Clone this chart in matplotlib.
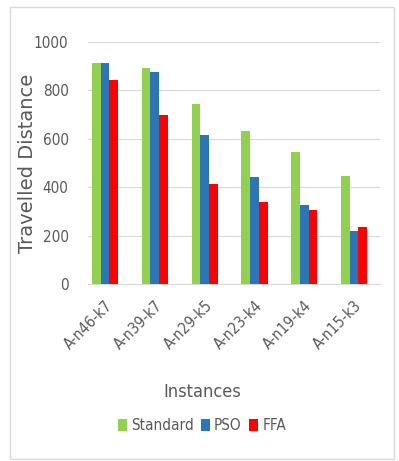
import matplotlib
matplotlib.use("Agg")
import matplotlib.pyplot as plt
import numpy as np
from matplotlib.patches import Rectangle

instances = ["A-n46-k7", "A-n39-k7", "A-n29-k5", "A-n23-k4", "A-n19-k4", "A-n15-k3"]
standard = [912, 893, 744, 631, 545, 445]
pso = [912, 877, 614, 441, 328, 217]
ffa = [842, 700, 414, 340, 307, 234]
series = ["Standard", "PSO", "FFA"]
colors = ["#92D050", "#2E75B6", "#FF0000"]

plt.rcParams["font.family"] = ["DejaVu Sans"]
plt.rcParams["font.stretch"] = "condensed"
txt = "#595959"

fig = plt.figure(figsize=(3.99, 4.61), dpi=100)
# light frame round the chart area
fig.patches.append(Rectangle((10 / 399, 2 / 461), 384 / 399, 452 / 461, transform=fig.transFigure,
                             fill=False, edgecolor="#d9d9d9", linewidth=1))
ax = fig.add_axes([88 / 399, 1 - 284 / 461, 292 / 399, 242 / 461])

x = np.arange(len(instances))
w = 0.175
for i, (vals, c, lab) in enumerate(zip([standard, pso, ffa], colors, series)):
    ax.bar(x + (i - 1) * w, vals, w, color=c, label=lab, zorder=3)

ax.set_ylim(0, 1000)
ax.set_xlim(-0.34, len(instances) - 0.48)
ax.set_yticks(range(0, 1001, 200))
ax.yaxis.grid(True, color="#d9d9d9", linewidth=0.8, zorder=0)
for s in ["top", "right", "left"]:
    ax.spines[s].set_visible(False)
ax.spines["bottom"].set_color("#d9d9d9")
ax.tick_params(length=0, colors=txt)
ax.tick_params(axis="y", labelsize=11, pad=14)
ax.set_xticks(x)
ax.set_xticklabels(instances, rotation=45, ha="right", rotation_mode="anchor", fontsize=11)
ax.tick_params(axis="x", pad=10)
ax.set_ylabel("Travelled Distance", fontsize=14, color=txt, fontstretch="normal")
ax.yaxis.set_label_coords(-0.175, 0.5)
ax.set_xlabel("Instances", fontsize=13, color=txt)
ax.xaxis.set_label_coords(0.39, -0.41)
ax.legend(loc="center", bbox_to_anchor=(0.39, -0.585), ncol=3, frameon=False,
          fontsize=11, handlelength=0.6, handleheight=0.8, handletextpad=0.25,
          columnspacing=0.5, labelcolor=txt)

fig.savefig("out.png", dpi=100)
